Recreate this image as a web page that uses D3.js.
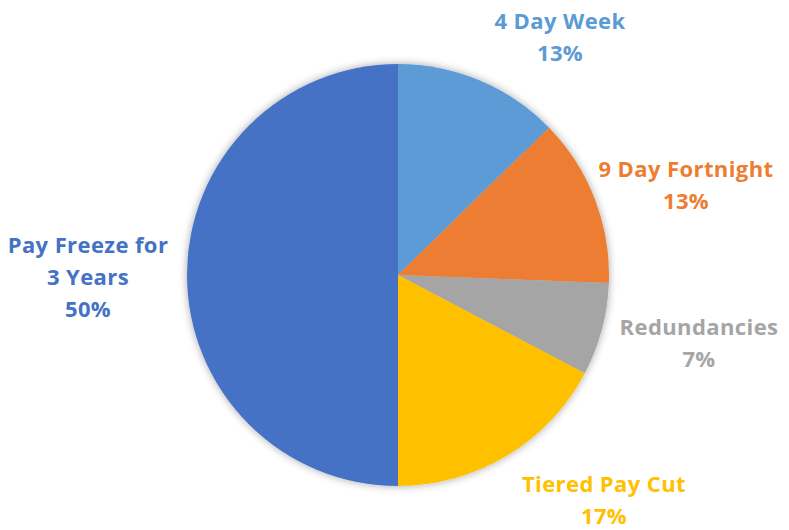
<!DOCTYPE html>
<html><head><meta charset="utf-8">
<script src="https://cdn.jsdelivr.net/npm/d3@7"></script>
<style>body{margin:0;background:#fff;} svg{display:block;}</style>
</head><body>
<svg id="chart" width="789" height="530"></svg>
<script>
const categories = ["4 Day Week", "9 Day Fortnight", "Redundancies", "Tiered Pay Cut", "Pay Freeze for 3 Years"];
const values = [12.7, 12.9, 7.1, 17.3, 50.0];
const colors = ["#5B9BD5", "#ED7D31", "#A5A5A5", "#FFC000", "#4472C4"];
const labelLines = [["4 Day Week"], ["9 Day Fortnight"], ["Redundancies"], ["Tiered Pay Cut"], ["Pay Freeze for", "3 Years"]];
const labelPos = [[560, 20], [686, 168], [699, 326], [604, 483], [88, 244]];

const svg = d3.select("#chart");
const cx = 398, cy = 275, r = 211;
const defs = svg.append("defs");
const f = defs.append("filter").attr("id", "sh").attr("x", "-20%").attr("y", "-20%").attr("width", "140%").attr("height", "140%");
f.append("feGaussianBlur").attr("in", "SourceAlpha").attr("stdDeviation", 4).attr("result", "b");
f.append("feComponentTransfer").attr("in", "b").attr("result", "o2").append("feFuncA").attr("type", "linear").attr("slope", 0.35);
const m = f.append("feMerge");
m.append("feMergeNode").attr("in", "o2");
m.append("feMergeNode").attr("in", "SourceGraphic");

const pie = d3.pie().sort(null).value(d => d);
const arcs = pie(values);
const arc = d3.arc().innerRadius(0).outerRadius(r);
const g = svg.append("g").attr("transform", `translate(${cx},${cy})`).attr("filter", "url(#sh)");
g.selectAll("path").data(arcs).join("path")
  .attr("d", arc).attr("fill", (d, i) => colors[i]);

const total = d3.sum(values);
const lg = svg.append("g").attr("font-family", "'Open Sans', sans-serif").attr("font-weight", "bold")
  .attr("font-size", "22px").attr("letter-spacing", "0.4px").attr("text-anchor", "middle");
arcs.forEach((d, i) => {
  const lines = labelLines[i].concat([Math.round(values[i] / total * 100) + "%"]);
  const t = lg.append("text").attr("fill", colors[i]).attr("dominant-baseline", "central");
  lines.forEach((ln, j) => {
    t.append("tspan").attr("x", labelPos[i][0]).attr("y", labelPos[i][1] + j * 32).text(ln);
  });
});
</script>
</body></html>
